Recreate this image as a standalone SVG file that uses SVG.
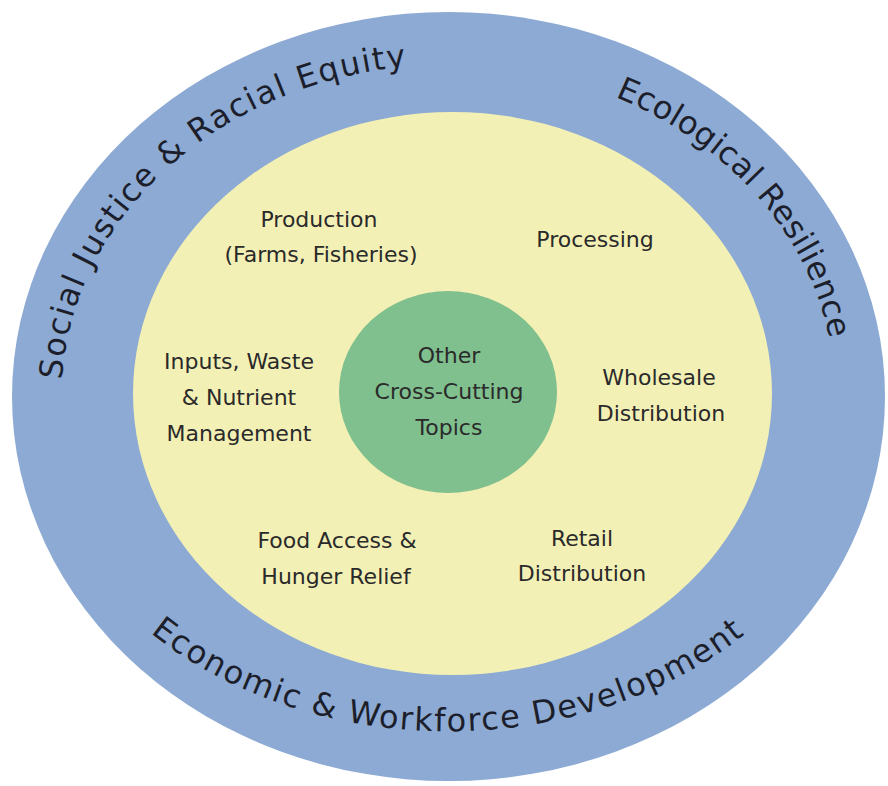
<svg xmlns="http://www.w3.org/2000/svg" width="888" height="786" viewBox="0 0 888 786">
  <style>
    .lbl { font-family: "DejaVu Sans", "Liberation Sans", sans-serif; font-size: 22px; fill: #2a2a2a; text-anchor: middle; }
    .arc { font-family: "DejaVu Sans", "Liberation Sans", sans-serif; font-size: 32px; fill: #1c1f2b; }
  </style>
  <defs>
    <path id="p-social" d="M 62 379.7 A 387 332 0 0 1 642 109"/>
    <path id="p-eco" d="M 615 96.8 A 387 332 0 0 1 783.6 562.5"/>
    <path id="p-econ" d="M 150.3 632.8 A 421 335 0 0 0 863.1 454.7"/>
  </defs>
  <rect width="888" height="786" fill="#ffffff"/>

  <g id="outer-ring">
    <ellipse cx="448.5" cy="396.5" rx="436.5" ry="384.5" fill="#8caad3"/>
    <text class="arc" letter-spacing="1.5"><textPath href="#p-social">Social Justice &amp; Racial Equity</textPath></text>
    <text class="arc" letter-spacing="0.2"><textPath href="#p-eco">Ecological Resilience</textPath></text>
    <text class="arc" letter-spacing="1.6"><textPath href="#p-econ">Economic &amp; Workforce Development</textPath></text>
  </g>

  <g id="food-system">
    <ellipse cx="452.5" cy="393.5" rx="319.5" ry="281.5" fill="#f3f0b6"/>
  </g>

  <g id="core">
    <ellipse cx="448" cy="392" rx="109" ry="101" fill="#80bf8e"/>
    <text class="lbl" x="449" y="363">Other</text>
    <text class="lbl" x="449" y="399">Cross-Cutting</text>
    <text class="lbl" x="449" y="435">Topics</text>
  </g>

  <g id="production">
    <text class="lbl" x="319" y="227">Production</text>
    <text class="lbl" x="321" y="262">(Farms, Fisheries)</text>
  </g>
  <g id="processing">
    <text class="lbl" x="595" y="247">Processing</text>
  </g>
  <g id="inputs">
    <text class="lbl" x="239" y="369">Inputs, Waste</text>
    <text class="lbl" x="239" y="405">&amp; Nutrient</text>
    <text class="lbl" x="239" y="441">Management</text>
  </g>
  <g id="wholesale">
    <text class="lbl" x="659" y="385">Wholesale</text>
    <text class="lbl" x="661" y="421">Distribution</text>
  </g>
  <g id="food-access">
    <text class="lbl" x="337" y="548">Food Access &amp;</text>
    <text class="lbl" x="336" y="584">Hunger Relief</text>
  </g>
  <g id="retail">
    <text class="lbl" x="582" y="546">Retail</text>
    <text class="lbl" x="582" y="581">Distribution</text>
  </g>
  <g id="connectors"/>
</svg>
